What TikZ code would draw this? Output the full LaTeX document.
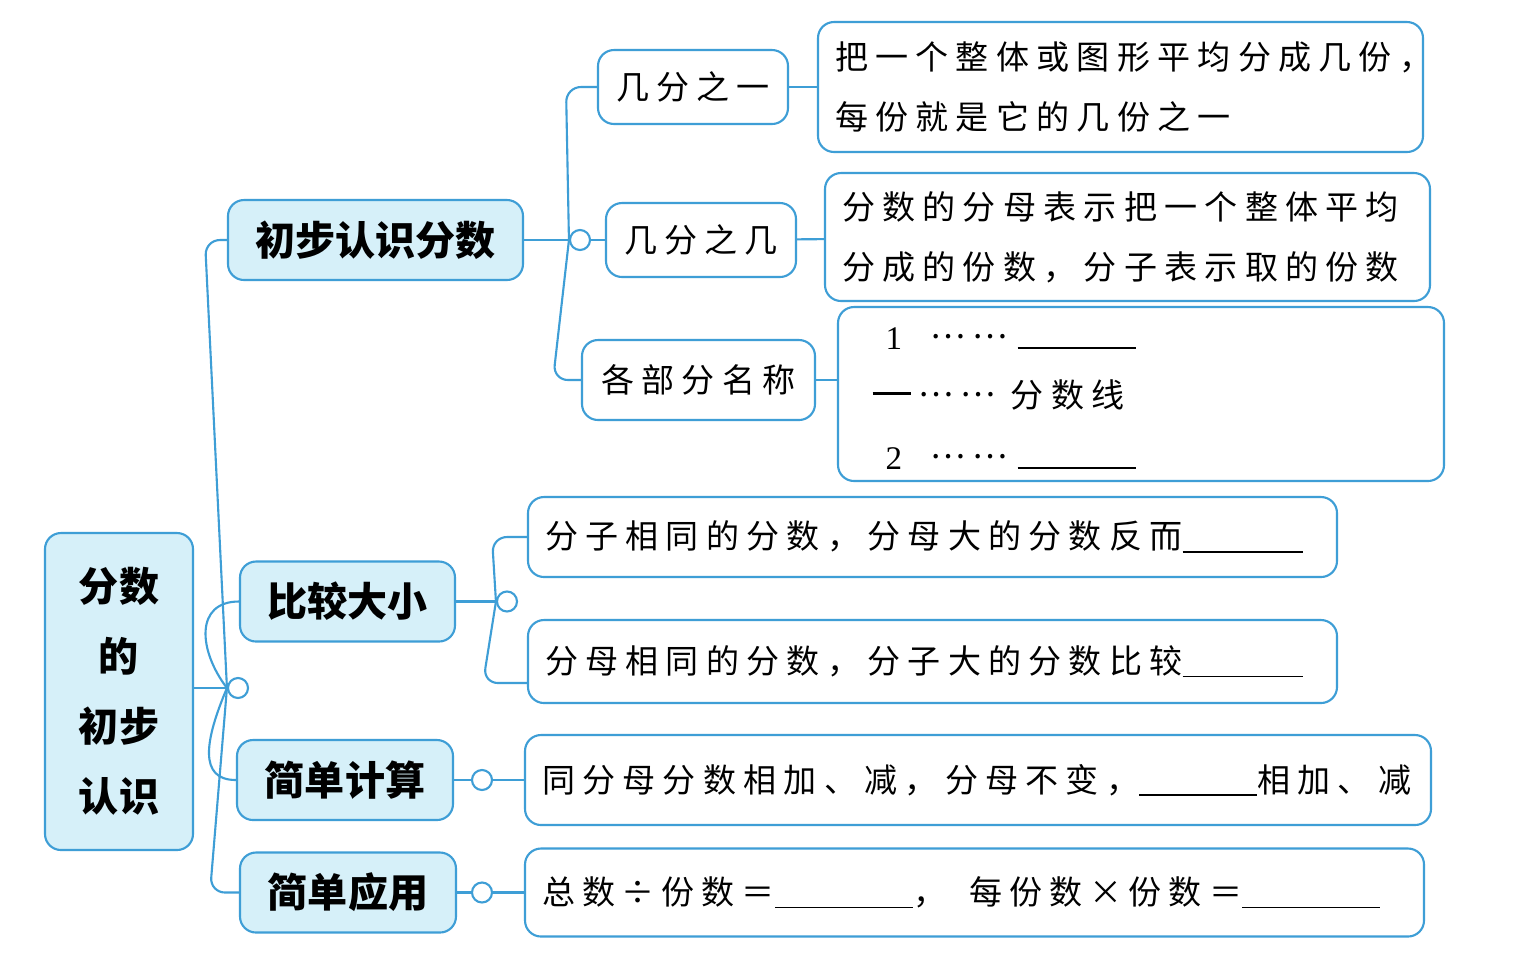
\documentclass[tikz,border=0pt]{standalone}
\usepackage{fontspec}
\newfontfamily\hei{Noto Sans CJK SC}
\newfontfamily\kai{Noto Sans CJK SC}[LetterSpace=22]
\newfontfamily\numfont{Liberation Serif}
\definecolor{mapblue}{RGB}{62,158,214}
\definecolor{mapfill}{RGB}{214,240,249}
\newcommand\blank[1]{\rule[-0.4mm]{#1}{0.5pt}}
\newcommand\middots{\raisebox{1.1mm}{……}}
\tikzset{
  box/.style = {draw=mapblue, line width=0.6pt, rounded corners=1.6mm, inner sep=0pt},
  root/.style = {box, fill=mapfill, align=center, minimum width=14.8mm, minimum height=31.7mm,
    font=\hei\fontsize{11.4pt}{19.9pt}\selectfont\bfseries},
  main/.style = {box, fill=mapfill, minimum height=8mm,
    font=\hei\fontsize{11.4pt}{13pt}\selectfont\bfseries},
  sub/.style = {box, fill=white, minimum height=7.4mm, font=\kai\fontsize{9.4pt}{17pt}\selectfont},
  desc/.style = {box, fill=white, align=left, inner xsep=1.7mm, text width=#1,
    font=\kai\fontsize{9.4pt}{17pt}\selectfont},
  row/.style = {inner sep=0pt, anchor=base west, font=\kai\fontsize{9.4pt}{17pt}\selectfont},
  hub/.style = {circle, draw=mapblue, line width=0.6pt, fill=white, minimum size=2mm, inner sep=0pt},
  link/.style = {draw=mapblue, line width=0.6pt}
}
\begin{document}
\begin{tikzpicture}[x=0.1mm, y=-0.1mm]
\useasboundingbox (0,0) rectangle (1517,971);
\fill[white] (0,0) rectangle (1517,971);

\node[root] (w_0) at (119,691.5) {分数\\的\\初步\\认识};
\node[main, minimum width=29.5mm] (w_1) at (375.5,240) {初步认识分数};
\node[main, minimum width=21.5mm] (w_2) at (347.5,601.5) {比较大小};
\node[main, minimum width=21.6mm] (w_3) at (345,780) {简单计算};
\node[main, minimum width=21.6mm] (w_4) at (348,892.5) {简单应用};

\node[hub] (o_0) at (238,688) {};
\node[hub] (o_1) at (580,240) {};
\node[hub] (o_2) at (507,601.5) {};
\node[hub] (o_3) at (482,780) {};
\node[hub] (o_4) at (482,892.5) {};

\node[sub, minimum width=19mm] (u_1) at (693,87) {几分之一};
\node[sub, minimum width=19mm] (u_2) at (701,240) {几分之几};
\node[sub, minimum width=23.3mm, minimum height=8mm] (u_3) at (698.5,380) {各部分名称};

\node[desc=57.1mm, minimum height=13mm] (d_1) at (1120.5,87) {把一个整体或图形平均分成几份，\\每份就是它的几份之一};
\node[desc=57.1mm, minimum height=12.8mm] (d_2) at (1127.5,237) {分数的分母表示把一个整体平均\\分成的份数，分子表示取的份数};
\node[box, fill=white, minimum width=60.6mm, minimum height=17.4mm] (d_3) at (1141,394) {};
\node[row] (r_1) at (885,349) {\makebox[4.5mm][l]{\numfont 1}\makebox[8.7mm][l]{\middots}\rule{11.8mm}{0.5pt}};
\node[row] (r_2) at (872,407) {\makebox[4.6mm][l]{\rule[1.2mm]{3.8mm}{0.9pt}}\makebox[9.2mm][l]{\middots}分数线};
\node[row] (r_3) at (885,469) {\makebox[4.5mm][l]{\numfont 2}\makebox[8.7mm][l]{\middots}\rule{11.8mm}{0.5pt}};

\node[desc=77.5mm, minimum height=8mm] (e_1) at (932.5,537) {分子相同的分数，分母大的分数反而\blank{12mm}};
\node[desc=77.5mm, minimum height=8.3mm] (e_2) at (932.5,661.5) {分母相同的分数，分子大的分数比较\blank{12mm}};
\node[desc=87.2mm, minimum height=9mm] (f_1) at (978,780) {同分母分数相加、减，分母不变，\blank{11.8mm}相加、减};
\node[desc=86.5mm, minimum height=8.8mm] (g_1) at (974.5,892.5) {总数\makebox[4.6mm]{÷}份数＝\blank{13.8mm}，\hspace{2.3mm}每份数\makebox[4.6mm]{×}份数＝\blank{13.8mm}};
\coordinate (q_2) at (528,683);

\draw[link] (w_0.east |- o_0) -- (o_0.west);
\draw[link, rounded corners=1.5mm] (o_0.west) -- (205,240) -- (w_1.west);
\draw[link] (o_0.west) .. controls (198,650) and (195,601.5) .. (w_2.west);
\draw[link] (o_0.west) .. controls (205,740) and (198,780) .. (w_3.west);
\draw[link, rounded corners=1.5mm] (o_0.west) -- (210,892.5) -- (w_4.west);

\path[link] (w_1) edge (o_1)
    (o_1) edge (u_2)
    (u_1) edge (d_1)
    (u_2) edge (d_2);
\draw[link] (u_3.east) -- (u_3.east -| d_3.west);
\draw[link, rounded corners=1.5mm] (o_1.west) -- (566,87) -- (u_1.west);
\draw[link, rounded corners=1.5mm] (o_1.west) -- (553,380) -- (u_3.west);

\path[link] (w_2) edge (o_2);
\draw[link, rounded corners=1.5mm] (o_2.west) -- (492,537) -- (e_1.west);
\draw[link, rounded corners=1.5mm] (o_2.west) -- (483,683) -- (q_2);

\path[link] (w_3) edge (o_3)
    (o_3) edge (f_1)
    (w_4) edge (o_4)
    (o_4) edge (g_1);
\end{tikzpicture}
\end{document}
